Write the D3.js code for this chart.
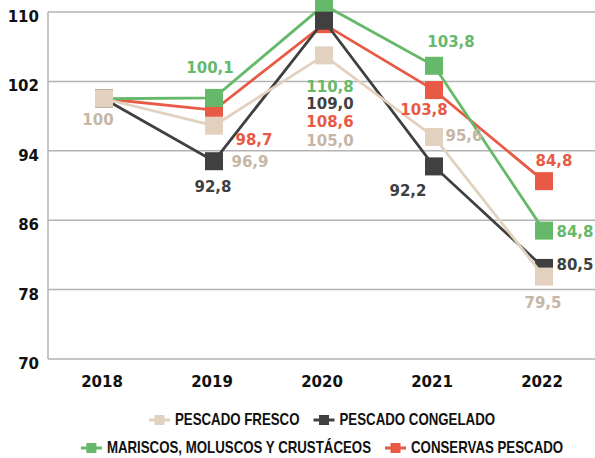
<!DOCTYPE html>
<html>
<head>
<meta charset="utf-8">
<script src="https://cdn.jsdelivr.net/npm/d3@7"></script>
<style>
  body { margin: 0; background: #fff; }
  svg text { font-family: "DejaVu Sans", sans-serif; font-weight: bold; }
  .legend text { font-family: "Liberation Sans", Arial, sans-serif; }
</style>
</head>
<body>
<svg id="chart"></svg>
<script>
// datos
const years = ["2018", "2019", "2020", "2021", "2022"];
const yTicks = [70, 78, 86, 94, 102, 110];

const fresco = [100, 96.9, 105.0, 95.6, 79.5];
const congelado = [100, 92.8, 109.0, 92.2, 80.5];
const mariscos = [100, 100.1, 110.8, 103.8, 84.8];
// conservas: posicion, etiqueta tal como aparece
const conservas = [100, 98.7, 108.6, 101.0, 90.5];
const conservasLabels = ["", "98,7", "108,6", "103,8", "84,8"];

const frescoLabels = ["100", "96,9", "105,0", "95,6", "79,5"];
const congeladoLabels = ["", "92,8", "109,0", "92,2", "80,5"];
const mariscosLabels = ["", "100,1", "110,8", "103,8", "84,8"];

const width = 595, height = 458;
const margin = { left: 48, top: 12, bottom: 359 };

const svg = d3.select("#chart").attr("width", width).attr("height", height);

const x = d3.scaleBand().domain(years).range([49, 599]);
const y = d3.scaleLinear().domain([70, 110]).range([margin.bottom, margin.top]);
const cx = d => x(d) + x.bandwidth() / 2;

// rejilla
svg.append("g")
  .selectAll("line")
  .data(yTicks)
  .enter().append("line")
  .attr("x1", margin.left).attr("x2", width)
  .attr("y1", d => y(d)).attr("y2", d => y(d))
  .attr("stroke", "#b3b3b3").attr("stroke-width", 1.5);

svg.append("line")
  .attr("x1", margin.left).attr("x2", margin.left)
  .attr("y1", y(110)).attr("y2", y(70))
  .attr("stroke", "#b3b3b3").attr("stroke-width", 1.5);

svg.append("g")
  .selectAll("text")
  .data(yTicks)
  .enter().append("text")
  .attr("x", 39)
  .attr("y", d => y(d) + 5)
  .attr("text-anchor", "end")
  .attr("dominant-baseline", "central")
  .attr("font-size", 15)
  .attr("fill", "#111")
  .text(d => d);

svg.append("g")
  .selectAll("text")
  .data(years)
  .enter().append("text")
  .attr("x", d => cx(d) - 2)
  .attr("y", 382)
  .attr("text-anchor", "middle")
  .attr("dominant-baseline", "central")
  .attr("font-size", 15)
  .attr("fill", "#111")
  .text(d => d);

// series (orden de dibujo: de abajo hacia arriba)
const series = [
  { name: "CONSERVAS PESCADO", values: conservas, labels: conservasLabels, color: "#e95a46", text: "#e95a46",
    offsets: [[0, 0], [40, 30], [6, 98], [-10, 20], [10, -20]] },
  { name: "MARISCOS, MOLUSCOS Y CRUSTÁCEOS", values: mariscos, labels: mariscosLabels, color: "#66b96a", text: "#66b96a",
    offsets: [[0, 0], [-4, -30], [6, 82], [17, -24], [31, 1]] },
  { name: "PESCADO CONGELADO", values: congelado, labels: congeladoLabels, color: "#404040", text: "#404040",
    offsets: [[0, 0], [-1, 26], [6, 83], [-26, 25], [31, -3]] },
  { name: "PESCADO FRESCO", values: fresco, labels: frescoLabels, color: "#e2d1bf", text: "#c6b6a6",
    offsets: [[-6, 21], [36, 36], [6, 86], [30, -1], [-1, 26]] }
];

const line = d3.line()
  .x((d, i) => cx(years[i]))
  .y(d => y(d));

const size = 18;

series.forEach(s => {
  const g = svg.append("g");
  g.append("path")
    .attr("d", line(s.values))
    .attr("fill", "none")
    .attr("stroke", s.color)
    .attr("stroke-width", 2.8);
  g.selectAll("rect")
    .data(s.values)
    .enter().append("rect")
    .attr("x", (d, i) => cx(years[i]) - size / 2)
    .attr("y", d => y(d) - size / 2)
    .attr("width", size).attr("height", size)
    .attr("fill", s.color);
});

// etiquetas encima de todo
series.forEach(s => {
  svg.append("g")
    .selectAll("text")
    .data(s.values)
    .enter().append("text")
    .attr("x", (d, i) => cx(years[i]) + s.offsets[i][0])
    .attr("y", (d, i) => y(d) + s.offsets[i][1])
    .attr("text-anchor", "middle")
    .attr("dominant-baseline", "central")
    .attr("font-size", 15)
    .attr("fill", s.text)
    .text((d, i) => s.labels[i]);
});

// leyenda (texto condensado)
const legendRows = [
  [series[3], series[2]],
  [series[1], series[0]]
];
const legendY = [420, 448];
const squeeze = 0.83;
const legend = svg.append("g").attr("class", "legend");

legendRows.forEach((row, r) => {
  const rowG = legend.append("g");
  let pos = 0;
  row.forEach((s, k) => {
    const item = rowG.append("g").attr("transform", `translate(${pos},0)`);
    item.append("line")
      .attr("x1", 0).attr("x2", 21)
      .attr("y1", 0).attr("y2", 0)
      .attr("stroke", s.color).attr("stroke-width", 3);
    item.append("rect")
      .attr("x", 5.5).attr("y", -5).attr("width", 10).attr("height", 10)
      .attr("fill", s.color);
    const t = item.append("text")
      .attr("transform", `translate(26,0) scale(${squeeze},1)`)
      .attr("dominant-baseline", "central")
      .attr("font-size", 16)
      .attr("fill", "#111")
      .text(s.name);
    pos += 26 + t.node().getComputedTextLength() * squeeze + 14;
  });
  const total = pos - 14;
  rowG.attr("transform", `translate(${322 - total / 2},${legendY[r]})`);
});
</script>
</body>
</html>
